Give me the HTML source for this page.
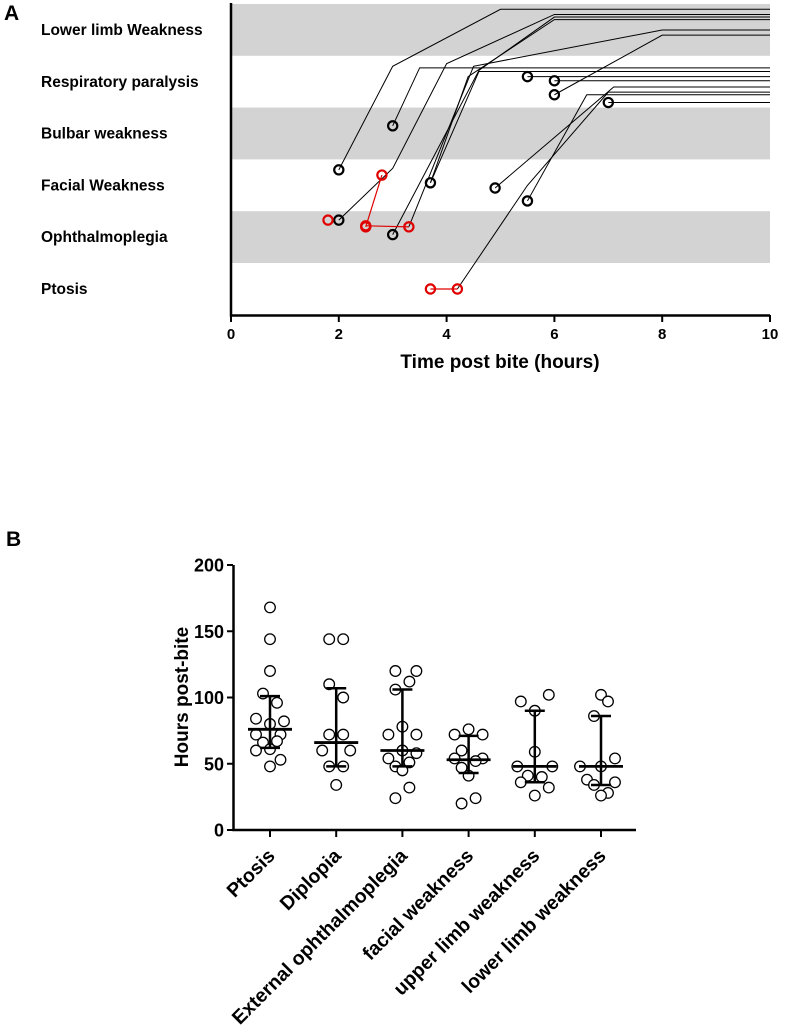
<!DOCTYPE html>
<html><head><meta charset="utf-8"><style>
body{margin:0;background:#fff;}
svg text{font-family:"Liberation Sans",Arial,sans-serif;font-weight:bold;fill:#000;}
</style></head><body>
<svg width="788" height="1029" viewBox="0 0 788 1029">
<g id="panelA"></g>
<g id="panelB"></g>
</svg>
<script>
// ---------- Panel A data ----------
const rowLabels = ["Lower limb Weakness","Respiratory paralysis","Bulbar weakness","Facial Weakness","Ophthalmoplegia","Ptosis"];
const xTicksA = [0,2,4,6,8,10];
const pathHours = [
 [2.0,3.0,5.0,10],
 [2.0,3.0,4.0,6.0,10],
 [3.0,3.5,10],
 [3.0,4.6,6.0,10],
 [3.3,4.5,8.0,10],
 [3.7,4.4,6.0,10],
 [3.7,4.6,10],
 [5.5,10],
 [6.0,10],
 [6.0,8.0,10],
 [4.9,7.1,10],
 [5.5,6.6,10],
 [4.2,5.5,7.0,10],
 [7.0,10]
];
const pathLevels = [
 [2.7,0.7,-0.4,-0.4],
 [3.67,2.67,0.65,-0.3,-0.3],
 [1.85,0.73,0.73],
 [3.95,0.78,-0.25,-0.25],
 [3.8,0.7,0.0,0.0],
 [2.95,0.9,-0.2,-0.2],
 [2.95,0.8,0.8],
 [0.9,0.9],
 [0.98,0.98],
 [1.25,0.1,0.1],
 [3.05,1.1,1.1],
 [3.3,1.25,1.25],
 [5.0,3.0,1.2,1.2],
 [1.4,1.4]
];
const blackCircleHours = [2.0,3.0,3.0,3.7,5.5,6.0,6.0,4.9,5.5,7.0,2.0];
const blackCircleLevels = [2.7,1.85,3.95,2.95,0.9,0.98,1.25,3.05,3.3,1.4,3.67];
const redCircleHours = [1.8,2.5,2.5,3.3,2.8,3.7,4.2];
const redCircleLevels = [3.67,3.8,3.78,3.8,2.8,5.0,5.0];
const redSegs = [[2,3],[1,4],[5,6]];

// ---------- Panel B data ----------
const categories = ["Ptosis","Diplopia","External ophthalmoplegia","facial weakness","upper limb weakness","lower limb weakness"];
const yTicksB = [0,50,100,150,200];
const ptValues = [
 [168,144,120,103,96,84,82,80,72,72,66,67,60,61,53,48],
 [144,144,110,100,72,72,60,60,48,48,34],
 [120,120,112,106,78,72,72,60,58,54,48,51,45,32,24],
 [72,76,72,60,54,54,52,47,41,24,20],
 [97,102,90,59,48,48,41,40,36,32,26],
 [102,97,86,54,48,48,38,36,34,28,26]
];
const ptJitter = [
 [0,0,0,-1,1,-2,2,0,-2,1.5,-1,1,-2,0,1.5,0],
 [-1,1,-1,1,-1,1,-2,2,-1,1,0],
 [-1,2,1,-1,0,-2,2,0,2,-2,-1,1,0,1,-1],
 [-2,0,2,-1,-2,2,1,-1,0,1,-1],
 [-2,2,0,0,-2.5,2.5,-1,1,-2,2,0],
 [0,1,-1,2,-3,0,-2,2,-1,1,0]
];
const medians = [76,66,60,53,48,48];
const q1 = [62,48,48,43,36,34];
const q3 = [101,107,106,71,90,86];

const NS="http://www.w3.org/2000/svg";
function mk(tag,attrs,parent){const e=document.createElementNS(NS,tag);for(const k in attrs)e.setAttribute(k,attrs[k]);parent.appendChild(e);return e;}

// ---------- Panel A ----------
const A=document.getElementById('panelA');
const xA=h=>231+h*53.9;
const yA=l=>30+l*51.8;
let t=mk('text',{x:4,y:20,'font-size':21},A);t.textContent='A';


rowLabels.forEach((s,i)=>{
 if(i%2===0){const r=mk('rect',{x:231,y:4+i*51.8,width:539,height:51.8,fill:'#d3d3d3'},A);
  
  }
 const tx=mk('text',{x:41,y:35+i*51.8,'font-size':15.5},A);tx.textContent=s;
 
 
});
pathHours.forEach((hs,i)=>{
 const pts=hs.map((h,j)=>xA(h)+','+yA(pathLevels[i][j])).join(' ');
 const p=mk('polyline',{points:pts,fill:'none',stroke:'#000','stroke-width':1},A);
 
 
});
redSegs.forEach(s=>{
 const l=mk('line',{x1:xA(redCircleHours[s[0]]),y1:yA(redCircleLevels[s[0]]),x2:xA(redCircleHours[s[1]]),y2:yA(redCircleLevels[s[1]]),stroke:'#e00000','stroke-width':1.2},A);
 
 
});
blackCircleHours.forEach((h,i)=>{
 const c=mk('circle',{cx:xA(h),cy:yA(blackCircleLevels[i]),r:4.6,fill:'none',stroke:'#000','stroke-width':2.2},A);
 
 
});
redCircleHours.forEach((h,i)=>{
 const c=mk('circle',{cx:xA(h),cy:yA(redCircleLevels[i]),r:4.6,fill:'none',stroke:'#e00000','stroke-width':2.2},A);
 
 
});
let ax=mk('path',{d:'M231,3 V315.5 H770',fill:'none',stroke:'#000','stroke-width':2.5},A);


xTicksA.forEach(v=>{
 const l=mk('line',{x1:xA(v),y1:315,x2:xA(v),y2:322,stroke:'#000','stroke-width':2},A);
 
 
 const tx=mk('text',{x:xA(v),y:339,'font-size':15,'text-anchor':'middle'},A);tx.textContent=v;
 
 
});
t=mk('text',{x:500,y:368,'font-size':19,'text-anchor':'middle'},A);t.textContent='Time post bite (hours)';



// ---------- Panel B ----------
const B=document.getElementById('panelB');
const yB=v=>830-v*1.325;
const xB=i=>270+i*66.2;
t=mk('text',{x:6,y:546,'font-size':21},B);t.textContent='B';


ax=mk('path',{d:'M233.5,565 V830 H636',fill:'none',stroke:'#000','stroke-width':2.5},B);


yTicksB.forEach(v=>{
 const l=mk('line',{x1:227,y1:yB(v),x2:233,y2:yB(v),stroke:'#000','stroke-width':2},B);
 
 
 const tx=mk('text',{x:224,y:yB(v)+6.5,'font-size':18,'text-anchor':'end'},B);tx.textContent=v;
 
 
});
t=mk('text',{x:0,y:0,'font-size':19,'text-anchor':'middle',transform:'translate(188,697) rotate(-90)'},B);t.textContent='Hours post-bite';


categories.forEach((c,i)=>{
 const x=xB(i);
 const l=mk('line',{x1:x,y1:830,x2:x,y2:837,stroke:'#000','stroke-width':2},B);
 
 
 const tx=mk('text',{x:0,y:0,'font-size':19.5,'text-anchor':'end',transform:`translate(${x+6},${857}) rotate(-45)`},B);tx.textContent=c;
 
 
 ptValues[i].forEach((v,j)=>{
  const p=mk('circle',{cx:x+ptJitter[i][j]*7,cy:yB(v),r:5.3,fill:'#fff',stroke:'#000','stroke-width':1.3},B);
  
  
 });
 const w=mk('path',{d:`M${x},${yB(q1[i])} V${yB(q3[i])} M${x-10},${yB(q1[i])} H${x+10} M${x-10},${yB(q3[i])} H${x+10}`,stroke:'#000','stroke-width':2.5,fill:'none'},B);
 
 
 const m=mk('line',{x1:x-22,y1:yB(medians[i]),x2:x+22,y2:yB(medians[i]),stroke:'#000','stroke-width':2.8},B);
 
 
});
</script>
</body></html>
